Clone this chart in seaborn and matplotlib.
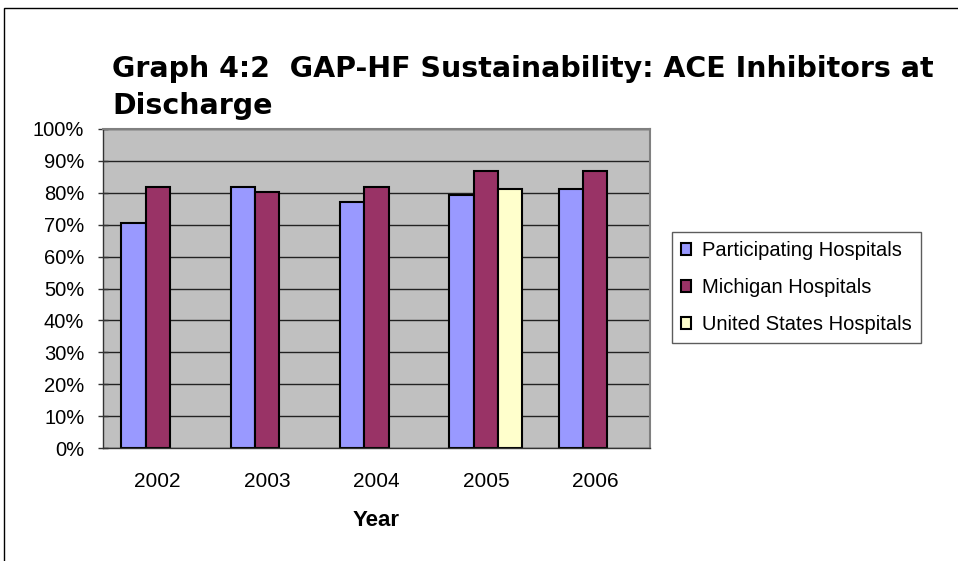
import numpy as np
import pandas as pd
import matplotlib
matplotlib.use("Agg")
import matplotlib.pyplot as plt
import matplotlib.patches as mpatches
from matplotlib.ticker import PercentFormatter, MultipleLocator, FixedLocator
import seaborn as sns

# values (percent)
years = ["2002", "2003", "2004", "2005", "2006"]
participating = [70.5, 81.9, 77.0, 79.4, 81.3]
michigan = [81.9, 80.1, 81.9, 86.9, 86.9]
united_states = [np.nan, np.nan, np.nan, 81.3, np.nan]

series_names = ["Participating Hospitals", "Michigan Hospitals", "United States Hospitals"]
colors = ["#9999FF", "#993366", "#FFFFCC"]

df = pd.DataFrame({
    "Year": years * 3,
    "value": participating + michigan + united_states,
    "series": [s for s in series_names for _ in years],
})

sns.set_style("white")
plt.rcParams["font.family"] = ["Liberation Sans", "DejaVu Sans"]
plt.rcParams["text.color"] = "black"
plt.rcParams["xtick.color"] = "black"
plt.rcParams["ytick.color"] = "black"
plt.rcParams["axes.labelcolor"] = "black"

fig = plt.figure(figsize=(9.58, 5.61), dpi=100)
ax = fig.add_axes([103 / 958, 1 - 448 / 561, 547 / 958, 319 / 561])
ax.set_facecolor("#C0C0C0")

sns.barplot(data=df, x="Year", y="value", hue="series", hue_order=series_names,
            palette=colors, width=3 / 4.5, edgecolor="black", linewidth=1.5,
            saturation=1, ax=ax, legend=True)

ax.set_ylim(0, 100)
ax.set_xlim(-0.5, len(years) - 0.5)
ax.yaxis.set_major_locator(MultipleLocator(10))
ax.yaxis.set_major_formatter(PercentFormatter(decimals=0))
ax.grid(axis="y", color="#222222", linewidth=1)
ax.set_axisbelow(True)

# category boundary ticks like the original
ax.xaxis.set_minor_locator(FixedLocator(np.arange(-0.5, len(years), 1.0)))
ax.tick_params(axis="x", which="major", length=0, pad=17, labelsize=15)
ax.tick_params(axis="x", which="minor", length=6, width=1, color="#333333", direction="out")
ax.tick_params(axis="y", which="major", length=7, width=1, color="#333333", direction="inout",
               left=True, labelsize=14.5, pad=10)

for side in ["top", "right"]:
    ax.spines[side].set_color("#808080")
    ax.spines[side].set_linewidth(1.5)
for side in ["left", "bottom"]:
    ax.spines[side].set_color("#333333")
    ax.spines[side].set_linewidth(1)

ax.set_ylabel("")
ax.set_xlabel("")
fig.text(376 / 958, 1 - 521 / 561, "Year", fontsize=16, fontweight="bold",
         ha="center", va="center")

handles = [mpatches.Patch(facecolor=c, edgecolor="black", linewidth=1.5) for c in colors]
ax.legend(handles, series_names, loc="upper left",
          bbox_to_anchor=(672 / 958, 1 - 232 / 561), bbox_transform=fig.transFigure,
          frameon=True, fancybox=False, edgecolor="#333333", fontsize=14.5,
          handlelength=0.5, handleheight=0.5, handletextpad=0.55,
          labelspacing=0.9, borderpad=0.45, borderaxespad=0)

title_font = dict(fontsize=20.5, fontweight="bold", family="DejaVu Sans",
                  ha="left", va="baseline")
fig.text(112 / 958, 1 - 77 / 561,
         "Graph 4:2  GAP-HF Sustainability: ACE Inhibitors at", **title_font)
fig.text(112 / 958, 1 - 114 / 561, "Discharge", **title_font)

# outer chart border (cut off at right and bottom)
fig.patches.append(mpatches.Rectangle((4 / 958, -0.1), 2, 1 - 8 / 561 + 0.1,
                                      transform=fig.transFigure, fill=False,
                                      edgecolor="black", linewidth=1))

fig.savefig("out.png", dpi=100, facecolor="white")
